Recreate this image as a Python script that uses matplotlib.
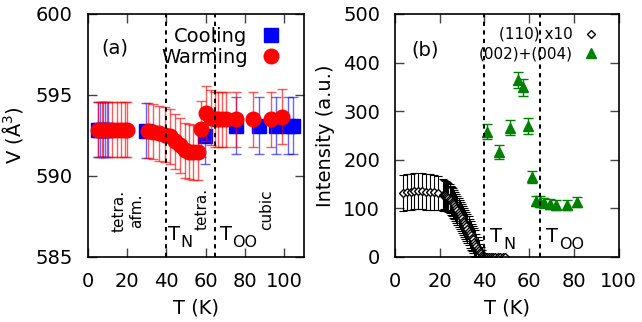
import matplotlib
matplotlib.use('Agg')
import matplotlib.pyplot as plt

plt.rcParams['font.family'] = 'DejaVu Sans'
plt.rcParams['mathtext.default'] = 'regular'

# ---------------- panel (a): cell volume ----------------
cool_T = [5.2, 6.3, 8.0, 9.0, 10.5, 29.5, 59.5, 75.5, 86.9, 96.0, 101.7, 104.2]
cool_V = [592.85, 592.85, 592.85, 592.85, 592.85, 592.78, 592.45, 593.1, 593.1, 593.1, 593.1, 593.1]
cool_err = [1.7, 1.7, 1.7, 1.7, 1.7, 1.7, 1.7, 1.75, 1.75, 1.75, 1.75, 1.75]

warm_T = [5.5, 7.5, 9.7, 12.3, 14.8, 17.0, 19.0, 20.3,
          30.8, 33.5, 36.4, 39.2, 41.8, 44.3, 46.8, 49.4, 51.5, 53.6, 56.0,
          57.8, 60.4, 62.5, 64.6, 66.5, 68.5, 70.5, 75.5, 84.0, 93.0, 99.0]
warm_V = [592.85, 592.85, 592.85, 592.85, 592.85, 592.85, 592.85, 592.85,
          592.78, 592.72, 592.65, 592.55, 592.45, 592.15, 591.9, 591.6, 591.5, 591.45, 591.45,
          592.9, 593.87, 593.6, 593.5, 593.5, 593.5, 593.5, 593.5, 593.5, 593.5, 593.65]
warm_err = [1.7, 1.7, 1.7, 1.7, 1.7, 1.7, 1.7, 1.7,
            1.7, 1.7, 1.7, 1.7, 1.7, 1.7, 1.7, 1.7, 1.7, 1.7, 1.7,
            1.7, 1.7, 1.7, 1.7, 1.7, 1.7, 1.7, 1.7, 1.7, 1.7, 1.7]

# ---------------- panel (b): intensities ----------------
afm_T = [3.6, 5.4, 7.2, 8.8, 10.6, 12.4, 14.0, 15.8, 17.6, 19.5, 21.5,
         22.0, 22.5, 23.0, 23.5, 24.0, 24.5, 25.0, 25.5, 26.0, 26.5, 27.0, 27.5,
         28.0, 28.5, 29.0, 29.5, 30.0, 30.5, 31.0, 31.5, 32.0, 32.5, 33.0, 33.5,
         34.0, 34.5, 35.0, 35.5, 36.0, 36.5, 37.0, 37.5, 38.0, 38.5, 39.0, 39.5, 40.0,
         40.5, 41.3, 42.1, 43.0, 43.8, 44.9, 46.0, 47.2, 48.3, 49.4]
afm_I = [132, 133, 134, 135, 135, 135, 134, 134, 133, 131, 128,
         128, 127, 126, 124, 122, 120, 117, 114, 111, 108, 104, 100,
         96, 92, 88, 84, 80, 75, 71, 67, 63, 58, 54, 49,
         45, 40, 36, 31, 27, 23, 19, 15, 11, 8, 5, 3, 1,
         0, 0, 0, 0, 0, 0, 0, 0, 0, 0]
afm_err = [37, 37, 37, 37, 37, 37, 37, 37, 36, 35, 33,
           30, 30, 30, 30, 30, 30, 30, 30, 30, 30, 30, 30,
           30, 30, 30, 30, 30, 30, 30, 30, 30, 30, 30, 30,
           30, 28, 28, 28, 28, 25, 22, 19, 16, 12, 9, 6, 4,
           2, 2, 2, 2, 2, 2, 2, 2, 2, 2]

oo_T = [41.0, 46.4, 51.6, 55.0, 57.1, 59.3, 61.3, 63.2, 64.7, 66.8, 69.5, 72.2, 77.0, 81.4]
oo_I = [258, 216, 266, 364, 349, 270, 165, 115, 114, 112, 109, 107, 107, 113]
oo_err = [15, 14, 16, 16, 18, 16, 12, 11, 11, 10, 10, 10, 10, 10]

T_N = 40.0
T_OO = 64.7

fs = 14

fig = plt.figure(figsize=(6.42, 3.22), dpi=100)
ax1 = fig.add_axes([0.1363, 0.2019, 0.3372, 0.7547])
ax2 = fig.add_axes([0.6148, 0.2019, 0.3489, 0.7547])


def style(ax):
    ax.tick_params(direction='in', top=True, right=True, length=6.5, width=1,
                   color='#444444', labelsize=fs)
    ax.tick_params(axis='y', pad=10.5)
    ax.tick_params(axis='x', pad=11)
    for s in ax.spines.values():
        s.set_linewidth(1.2)


def tlabel(ax, x, y, sub):
    # T with a large gnuplot-like subscript
    ax.text(x, y, 'T', fontsize=fs, ha='left', va='baseline')
    ax.annotate(sub, xy=(x, y), xytext=(9.2, -5), textcoords='offset points',
                fontsize=11.5, ha='left', va='baseline')


# (a)
ax1.errorbar(cool_T, cool_V, yerr=cool_err, fmt='none', ecolor=(0, 0, 1, 0.6),
             elinewidth=1, capsize=3.5, capthick=1)
h_cool, = ax1.plot(cool_T, cool_V, 's', color='blue', ms=10.5, label='Cooling')
ax1.errorbar(warm_T, warm_V, yerr=warm_err, fmt='none', ecolor=(1, 0, 0, 0.65),
             elinewidth=1, capsize=3.5, capthick=1)
h_warm, = ax1.plot(warm_T, warm_V, 'o', color='red', ms=10.5, label='Warming')
for t in (T_N, T_OO):
    ax1.axvline(t, color='black', lw=1.4, ls=(0, (2.2, 2.2)))
ax1.set_xlim(0, 110)
ax1.set_ylim(585, 600)
ax1.set_xticks([0, 20, 40, 60, 80, 100])
ax1.set_yticks([585, 590, 595, 600])
style(ax1)
ax1.set_xlabel('T (K)', fontsize=fs)
ax1.set_ylabel('V (Å$^3$)', fontsize=fs)
ax1.yaxis.set_label_coords(-0.289, 0.5)
ax1.xaxis.set_label_coords(0.5, -0.171)
ax1.legend(handles=[h_cool, h_warm], loc='upper right', bbox_to_anchor=(0.892, 0.9465),
           frameon=False, markerfirst=False, fontsize=fs, handlelength=1.0,
           handletextpad=0.7, labelspacing=0.1, borderpad=0, borderaxespad=0)
ax1.text(13.9, 597.9, '(a)', fontsize=fs, ha='center', va='center')
ax1.text(20.3, 587.85, 'tetra.\nafm.', fontsize=11, rotation=90, ha='center', va='center',
         multialignment='center')
ax1.text(58.0, 587.95, 'tetra.', fontsize=11, rotation=90, ha='center', va='center')
ax1.text(90.9, 587.95, 'cubic', fontsize=11, rotation=90, ha='center', va='center')
tlabel(ax1, 40.8, 586.05, 'N')
tlabel(ax1, 67.1, 586.05, 'OO')

# (b)
ax2.errorbar(afm_T, afm_I, yerr=afm_err, fmt='none', ecolor='black',
             elinewidth=0.8, capsize=3, capthick=0.8)
h_afm, = ax2.plot(afm_T, afm_I, 'D', color='black', mfc='white', mew=1, ms=3.8,
                  label='(110) x10')
ax2.errorbar(oo_T, oo_I, yerr=oo_err, fmt='none', ecolor='#008000',
             elinewidth=1, capsize=3.6, capthick=1)
h_oo, = ax2.plot(oo_T, oo_I, '^', color='#008000', ms=6.5, label='(002)+(004)')
for t in (T_N, T_OO):
    ax2.axvline(t, color='black', lw=1.4, ls=(0, (2.2, 2.2)))
ax2.set_xlim(0, 100)
ax2.set_ylim(0, 500)
ax2.set_xticks([0, 20, 40, 60, 80, 100])
ax2.set_yticks([0, 100, 200, 300, 400, 500])
style(ax2)
ax2.set_xlabel('T (K)', fontsize=fs)
ax2.set_ylabel('Intensity (a.u.)', fontsize=fs)
ax2.yaxis.set_label_coords(-0.267, 0.5)
ax2.xaxis.set_label_coords(0.5, -0.171)
ax2.legend(handles=[h_afm, h_oo], loc='upper right', bbox_to_anchor=(0.911, 0.9465),
           frameon=False, markerfirst=False, fontsize=11, handlelength=1.0,
           handletextpad=0.7, labelspacing=0.3, borderpad=0, borderaxespad=0)
ax2.text(13.6, 426, '(b)', fontsize=fs, ha='center', va='center')
tlabel(ax2, 42.6, 31.5, 'N')
tlabel(ax2, 67.5, 31.5, 'OO')

fig.savefig('out.png', dpi=100)
